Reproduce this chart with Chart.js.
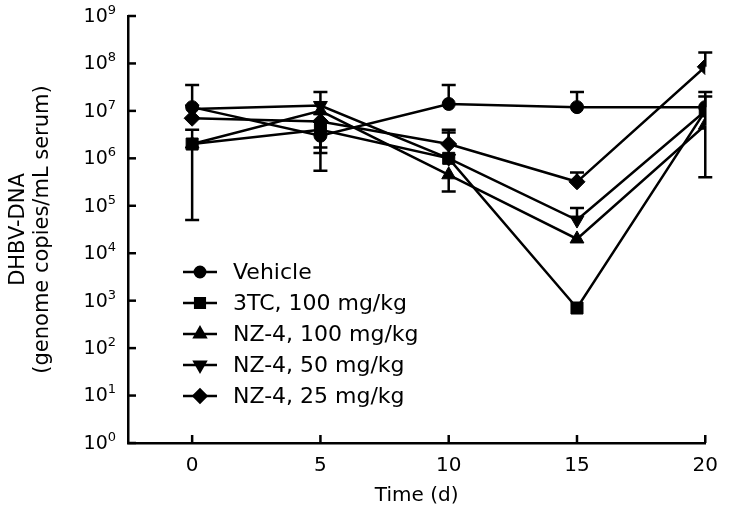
<!DOCTYPE html>
<html>
<head>
<meta charset="utf-8">
<script src="https://cdn.jsdelivr.net/npm/chart.js@4.4.1/dist/chart.umd.min.js"></script>
<style>
  html, body { margin: 0; padding: 0; background: #fff; }
  #wrap { width: 729px; height: 523px; }
</style>
</head>
<body>
<div id="wrap"><canvas id="chart" width="729" height="523"></canvas></div>
<script>
// Time points (days) and log-axis exponents
const days = [0, 5, 10, 15, 20];
const exponents = [0, 1, 2, 3, 4, 5, 6, 7, 8, 9];

const seriesLabels = ['Vehicle', '3TC, 100 mg/kg', 'NZ-4, 100 mg/kg', 'NZ-4, 50 mg/kg', 'NZ-4, 25 mg/kg'];

// DHBV-DNA genome copies/mL serum
const vehicle = [1.2e7, 3e6, 1.4e7, 1.2e7, 1.2e7];
const tc3_100 = [2e6, 4e6, 1e6, 7e2, 1e7];
const nz4_100 = [2e6, 1e7, 4.5e5, 2e4, 5e6];
const nz4_50 = [1.1e7, 1.3e7, 1e6, 5e4, 1e7];
const nz4_25 = [7e6, 6e6, 2e6, 3.2e5, 8.5e7];

// error bar ends (null = not visible in the figure)
const vehicleHi = [3.5e7, 2.5e7, 3.5e7, 2.5e7, 2.5e7];
const vehicleLo = [null, 5.5e5, null, null, null];
const tc3_100Hi = [4e6, null, null, null, null];
const tc3_100Lo = [5e4, 1.7e6, null, null, null];
const nz4_100Hi = [null, null, null, null, 2e7];
const nz4_100Lo = [null, null, 2e5, null, 4e5];
const nz4_50Hi = [null, null, 3.5e6, 9e4, null];
const nz4_50Lo = [null, null, null, null, null];
const nz4_25Hi = [null, null, 4e6, 5e5, 1.7e8];
const nz4_25Lo = [null, 1.3e6, null, null, null];

const FONT = '"DejaVu Sans", Verdana, sans-serif';

function makeSet(label, values, hi, lo, style, radius, rotation) {
    return {
        label: label,
        data: values.map((v, i) => ({ x: days[i], y: v })),
        errHi: hi,
        errLo: lo,
        borderColor: '#000',
        backgroundColor: '#000',
        borderWidth: 2.5,
        pointStyle: style,
        pointRadius: radius,
        pointRotation: rotation || 0,
        pointBorderWidth: 1,
        tension: 0
    };
}

const datasets = [
    makeSet(seriesLabels[0], vehicle, vehicleHi, vehicleLo, 'circle', 6.5),
    makeSet(seriesLabels[1], tc3_100, tc3_100Hi, tc3_100Lo, 'rect', 8.5),
    makeSet(seriesLabels[2], nz4_100, nz4_100Hi, nz4_100Lo, 'triangle', 8),
    makeSet(seriesLabels[3], nz4_50, nz4_50Hi, nz4_50Lo, 'triangle', 8, 180),
    makeSet(seriesLabels[4], nz4_25, nz4_25Hi, nz4_25Lo, 'rectRot', 8)
];

// vertical error bars with caps
const errorBars = {
    id: 'errorBars',
    beforeDatasetsDraw(chart) {
        const { ctx, scales: { x, y } } = chart;
        const cap = 7;
        ctx.save();
        ctx.strokeStyle = '#000';
        ctx.lineWidth = 2.5;
        chart.data.datasets.forEach(ds => {
            ds.data.forEach((pt, i) => {
                const px = x.getPixelForValue(pt.x);
                const py = y.getPixelForValue(pt.y);
                [ds.errHi[i], ds.errLo[i]].forEach(end => {
                    if (end == null) return;
                    const ey = y.getPixelForValue(end);
                    ctx.beginPath();
                    ctx.moveTo(px, py);
                    ctx.lineTo(px, ey);
                    ctx.moveTo(px - cap, ey);
                    ctx.lineTo(px + cap, ey);
                    ctx.stroke();
                });
            });
        });
        ctx.restore();
    }
};

// inward ticks, superscript log labels and line+marker legend
const decorations = {
    id: 'decorations',
    afterDraw(chart) {
        const { ctx, scales: { x, y } } = chart;
        ctx.save();
        ctx.strokeStyle = '#000';
        ctx.fillStyle = '#000';
        ctx.lineWidth = 2.5;

        y.ticks.forEach(t => {
            const py = y.getPixelForValue(t.value);
            ctx.beginPath();
            ctx.moveTo(y.right, py);
            ctx.lineTo(y.right + 8, py);
            ctx.stroke();
        });
        x.ticks.forEach(t => {
            const px = x.getPixelForValue(t.value);
            ctx.beginPath();
            ctx.moveTo(px, x.top);
            ctx.lineTo(px, x.top - 8);
            ctx.stroke();
        });

        // 10^n labels
        y.ticks.forEach(t => {
            const py = y.getPixelForValue(t.value);
            const exp = String(Math.round(Math.log10(t.value)));
            ctx.font = '13px ' + FONT;
            const supW = ctx.measureText(exp).width;
            const supX = y.right - 12 - supW;
            ctx.textAlign = 'left';
            ctx.textBaseline = 'top';
            ctx.fillText(exp, supX, py - 12);
            ctx.font = '19px ' + FONT;
            ctx.textAlign = 'right';
            ctx.textBaseline = 'middle';
            ctx.fillText('10', supX, py + 1);
        });

        // legend
        const lx = 183, lw = 34, ly = 272, gap = 31;
        chart.data.datasets.forEach((ds, i) => {
            const yy = ly + gap * i;
            ctx.lineWidth = 2.5;
            ctx.beginPath();
            ctx.moveTo(lx, yy);
            ctx.lineTo(lx + lw, yy);
            ctx.stroke();
            Chart.helpers.drawPoint(ctx, {
                pointStyle: ds.pointStyle,
                radius: ds.pointRadius * 0.8,
                rotation: ds.pointRotation,
                borderWidth: 1
            }, lx + lw / 2, yy);
            ctx.font = '22px ' + FONT;
            ctx.textAlign = 'left';
            ctx.textBaseline = 'middle';
            ctx.fillText(ds.label, 233, yy + 1);
        });
        ctx.restore();
    }
};

new Chart(document.getElementById('chart'), {
    type: 'line',
    data: { datasets: datasets },
    options: {
        responsive: false,
        devicePixelRatio: 1,
        animation: false,
        layout: { padding: { top: 16, right: 22, left: 0, bottom: 0 } },
        plugins: {
            legend: { display: false },
            tooltip: { enabled: false }
        },
        scales: {
            x: {
                type: 'linear',
                min: -2.5,
                max: 20,
                afterBuildTicks: s => { s.ticks = days.map(v => ({ value: v })); },
                afterFit: s => { s.height = 80; },
                grid: { display: false, drawTicks: false },
                border: { display: true, color: '#000', width: 2.5 },
                ticks: {
                    color: '#000',
                    padding: 11,
                    font: { family: FONT, size: 20 }
                },
                title: {
                    display: true,
                    text: 'Time (d)',
                    color: '#000',
                    padding: { top: 0, bottom: 15 },
                    font: { family: FONT, size: 20 }
                }
            },
            y: {
                type: 'logarithmic',
                min: 1,
                max: 1e9,
                afterBuildTicks: s => { s.ticks = exponents.map(e => ({ value: Math.pow(10, e) })); },
                afterFit: s => { s.width = 128; },
                grid: { display: false, drawTicks: false },
                border: { display: true, color: '#000', width: 2.5 },
                ticks: { display: false },
                title: {
                    display: true,
                    text: ['DHBV-DNA', '(genome copies/mL serum)'],
                    color: '#000',
                    padding: { top: 6, bottom: 0 },
                    font: { family: FONT, size: 21, lineHeight: 1.15 }
                }
            }
        }
    },
    plugins: [errorBars, decorations]
});
</script>
</body>
</html>
